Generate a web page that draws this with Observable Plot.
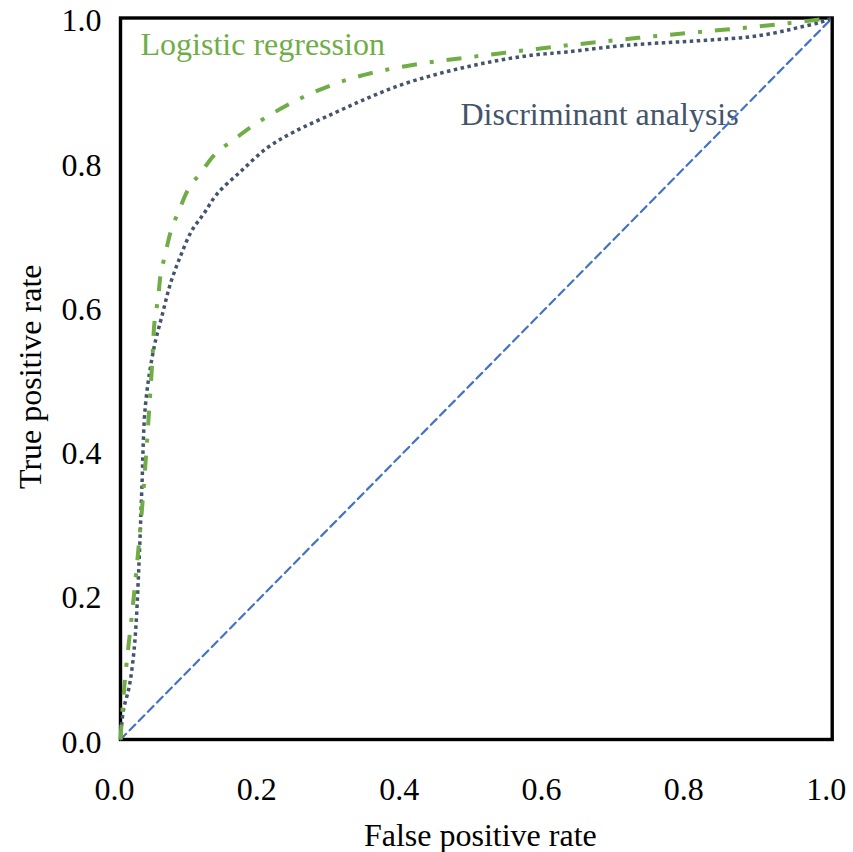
<!DOCTYPE html>
<html>
<head>
<meta charset="utf-8">
<script src="https://cdn.jsdelivr.net/npm/d3@7"></script>
<script src="https://cdn.jsdelivr.net/npm/@observablehq/plot@0.6"></script>
<style>
  html, body { margin: 0; padding: 0; background: white; }
</style>
</head>
<body>
<div id="chart"></div>
<script>
// Logistic regression ROC curve
const logitFpr = [0, 0.0055, 0.019, 0.031, 0.040, 0.0445, 0.0478, 0.053, 0.0562, 0.0632, 0.0712, 0.0829, 0.0959, 0.1147, 0.1334, 0.1615, 0.1872, 0.2434, 0.302, 0.3605, 0.4237, 0.487, 0.5524, 0.618, 0.6835, 0.7468, 0.81, 0.8755, 0.9387, 1];
const logitTpr = [0, 0.075, 0.201, 0.329, 0.453, 0.521, 0.579, 0.6126, 0.643, 0.674, 0.706, 0.7347, 0.7637, 0.788, 0.8118, 0.833, 0.8516, 0.884, 0.909, 0.9255, 0.937, 0.9452, 0.9533, 0.961, 0.968, 0.9744, 0.9803, 0.9863, 0.9928, 1];

// Discriminant analysis ROC curve
const discFpr = [0, 0.004, 0.012, 0.017, 0.021, 0.026, 0.030, 0.035, 0.0468, 0.0585, 0.0702, 0.0843, 0.1, 0.117, 0.1358, 0.1685, 0.206, 0.2434, 0.2996, 0.3465, 0.3933, 0.44, 0.487, 0.5337, 0.5805, 0.6273, 0.693, 0.7397, 0.7865, 0.8333, 0.88, 0.9176, 0.9504, 0.9831, 1];
const discTpr = [0, 0.04, 0.072, 0.105, 0.147, 0.244, 0.348, 0.463, 0.5418, 0.588, 0.632, 0.67, 0.705, 0.7286, 0.7563, 0.787, 0.82, 0.842, 0.8679, 0.8887, 0.907, 0.9209, 0.9324, 0.9417, 0.9487, 0.953, 0.9605, 0.9642, 0.967, 0.9698, 0.9734, 0.979, 0.9863, 0.994, 1];

// Chance diagonal
const chanceFpr = [0, 1];
const chanceTpr = [0, 1];

const xTicks = [0, 0.2, 0.4, 0.6, 0.8, 1.0];
const yTicks = [0, 0.2, 0.4, 0.6, 0.8, 1.0];

const seriesLabels = ["Logistic regression", "Discriminant analysis"];
const xTitle = "False positive rate";
const yTitle = "True positive rate";

const logit = logitFpr.map((x, i) => ({x, y: logitTpr[i]}));
const disc = discFpr.map((x, i) => ({x, y: discTpr[i]}));
const chance = chanceFpr.map((x, i) => ({x, y: chanceTpr[i]}));

const fmt = d3.format(".1f");
const FS = 32;

const chart = Plot.plot({
  width: 853,
  height: 852,
  marginLeft: 120,
  marginRight: 21.3,
  marginTop: 17.5,
  marginBottom: 113,
  style: {fontFamily: "'Liberation Serif', 'Times New Roman', serif", fontSize: FS + "px", background: "white", color: "black"},
  x: {domain: [0, 1]},
  y: {domain: [0, 1]},
  marks: [
    Plot.axisX({ticks: xTicks, tickSize: 0, tickPadding: 38, tickFormat: fmt, dx: -6, label: null, fontSize: FS, fill: "black"}),
    Plot.axisY({ticks: yTicks, tickSize: 0, tickPadding: 19, tickFormat: fmt, dy: 3, label: null, fontSize: FS, fill: "black"}),
    Plot.text([xTitle], {frameAnchor: "bottom", textAnchor: "middle", dy: 96, dx: 4, lineAnchor: "middle", fontSize: FS, fill: "black"}),
    Plot.text([yTitle], {frameAnchor: "left", textAnchor: "middle", rotate: -90, dx: -90, dy: -2, lineAnchor: "middle", fontSize: FS, fill: "black"}),
    Plot.frame({stroke: "black", strokeWidth: 3.4}),
    Plot.text([seriesLabels[0]], {frameAnchor: "top-left", textAnchor: "start", lineAnchor: "middle", dx: 20, dy: 26.5, fontSize: FS, fill: "#70AD47"}),
    Plot.text([seriesLabels[1]], {frameAnchor: "top-left", textAnchor: "start", lineAnchor: "middle", dx: 340, dy: 97, fontSize: FS, fill: "#44546A"}),
    Plot.line(chance, {x: "x", y: "y", stroke: "#4472C4", strokeWidth: 2.2, strokeDasharray: "8,5"}),
    Plot.line(disc, {x: "x", y: "y", stroke: "#44546A", strokeWidth: 3.5, strokeDasharray: "3.5,3.5", curve: "catmull-rom", strokeLinecap: "butt"}),
    Plot.line(logit, {x: "x", y: "y", stroke: "#70AD47", strokeWidth: 4, strokeDasharray: "15,13,4,13", curve: "catmull-rom", strokeLinecap: "butt"})
  ]
});

document.getElementById("chart").appendChild(chart);
</script>
</body>
</html>
